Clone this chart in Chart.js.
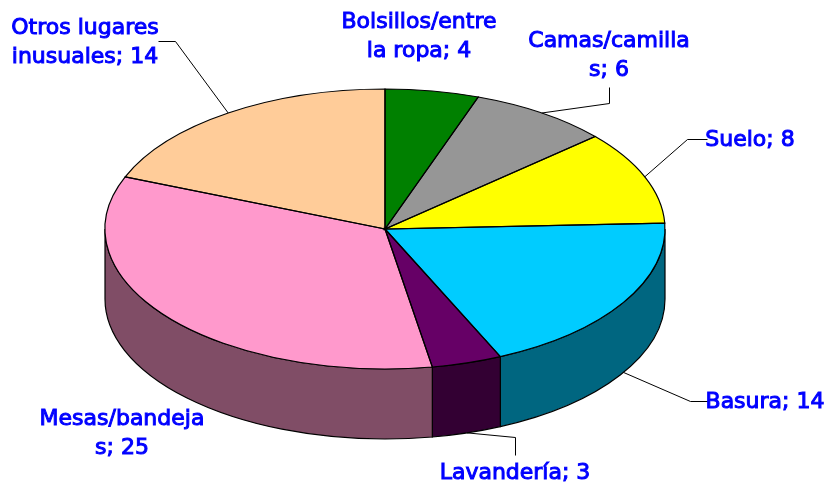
<!DOCTYPE html>
<html>
<head>
<meta charset="utf-8">
<script src="https://cdn.jsdelivr.net/npm/chart.js@4/dist/chart.umd.min.js"></script>
<style>
html, body { margin: 0; padding: 0; background: #fff; }
#wrap { width: 824px; height: 486px; }
</style>
</head>
<body>
<div id="wrap"><canvas id="chartPie" width="824" height="486"></canvas></div>
<script>
"use strict";

var categories = ["Bolsillos/entre la ropa", "Camas/camillas", "Suelo", "Basura",
                  "Lavandería", "Mesas/bandejas", "Otros lugares inusuales"];
var values = [4, 6, 8, 14, 3, 25, 14];
var topColors = ["#008000", "#969696", "#ffff00", "#00ccff", "#660066", "#ff99cc", "#ffcc99"];
var sideColors = ["#004000", "#4b4b4b", "#808000", "#006680", "#330033", "#804d66", "#806633"];

// 3d look: where the tilted top face goes, and how thick the pie is
var cx = 385, cy = 229, rx = 280, ry = 140, depth = 70;

// label placement (text centre, line break index, leader elbow and end)
var labelLayout = [
  {x: 419, y: 22, br: 15},
  {x: 609, y: 41, br: 13, elbow: [609, 103], end: [609, 87]},
  {x: 750, y: 140, elbow: [687, 139], end: [707, 139]},
  {x: 765, y: 402, elbow: [690, 401], end: [709, 401]},
  {x: 515, y: 473, elbow: [515, 437], end: [515, 455]},
  {x: 122, y: 419, br: 13},
  {x: 85, y: 28, br: 13, elbow: [175, 41], end: [158, 41]}
];

function ellipsePoint(angle, down) {
  return [cx + rx * Math.cos(angle), cy + ry * Math.sin(angle) + (down || 0)];
}

var pie3d = {
  id: "pie3d",
  beforeDatasetsDraw: function(chart) {
    var ctx = chart.ctx;
    var arcs = chart.getDatasetMeta(0).data;

    // side walls, only the front half can be seen
    ctx.save();
    ctx.lineWidth = 1.2;
    ctx.strokeStyle = "#000";
    arcs.forEach(function(arc, i) {
      var a = Math.max(arc.startAngle, 0);
      var b = Math.min(arc.endAngle, Math.PI);
      if (a >= b) return;
      var p = ellipsePoint(a);
      var q = ellipsePoint(b, depth);
      ctx.beginPath();
      ctx.moveTo(p[0], p[1]);
      ctx.ellipse(cx, cy, rx, ry, 0, a, b);
      ctx.lineTo(q[0], q[1]);
      ctx.ellipse(cx, cy + depth, rx, ry, 0, b, a, true);
      ctx.closePath();
      ctx.fillStyle = sideColors[i];
      ctx.fill();
      ctx.stroke();
    });
    ctx.restore();

    // squash the round pie into the tilted top face
    var el = arcs[0];
    var r = el.outerRadius;
    ctx.save();
    ctx.translate(cx, cy);
    ctx.scale(rx / r, ry / r);
    ctx.translate(-el.x, -el.y);
  },
  afterDatasetsDraw: function(chart) {
    var ctx = chart.ctx;
    ctx.restore();
    var arcs = chart.getDatasetMeta(0).data;
    ctx.save();
    ctx.lineWidth = 1.2;
    ctx.strokeStyle = "#000";
    arcs.forEach(function(arc) {
      var p = ellipsePoint(arc.startAngle);
      ctx.beginPath();
      ctx.moveTo(cx, cy);
      ctx.lineTo(p[0], p[1]);
      ctx.ellipse(cx, cy, rx, ry, 0, arc.startAngle, arc.endAngle);
      ctx.closePath();
      ctx.stroke();
    });
    ctx.restore();
  },
  afterDraw: function(chart) {
    var ctx = chart.ctx;
    var arcs = chart.getDatasetMeta(0).data;
    ctx.save();
    // leader lines
    ctx.strokeStyle = "#000";
    ctx.lineWidth = 1;
    arcs.forEach(function(arc, i) {
      var lay = labelLayout[i];
      if (!lay.elbow) return;
      var mid = (arc.startAngle + arc.endAngle) / 2;
      var p = ellipsePoint(mid, Math.sin(mid) > 0 ? depth : 0);
      ctx.beginPath();
      ctx.moveTo(p[0], p[1]);
      ctx.lineTo(lay.elbow[0] + 0.5, lay.elbow[1] + 0.5);
      ctx.lineTo(lay.end[0] + 0.5, lay.end[1] + 0.5);
      ctx.stroke();
    });
    // labels
    ctx.font = "22px 'DejaVu Sans'";
    ctx.textAlign = "center";
    ctx.textBaseline = "middle";
    ctx.fillStyle = "#0000ff";
    ctx.strokeStyle = "#0000ff";
    ctx.lineWidth = 1;
    categories.forEach(function(name, i) {
      var lay = labelLayout[i];
      var text = name + "; " + values[i];
      var lines = lay.br ? [text.slice(0, lay.br).trim(), text.slice(lay.br).trim()] : [text];
      lines.forEach(function(line, k) {
        ctx.fillText(line, lay.x, lay.y + k * 29);
        ctx.strokeText(line, lay.x, lay.y + k * 29);
      });
    });
    ctx.restore();
  }
};

var chartPie = new Chart("chartPie", {
  type: "pie",
  data: {
    labels: categories,
    datasets: [
      {
        data: values,
        backgroundColor: topColors,
        borderWidth: 0,
        clip: false
      }
    ]
  },
  options: {
    responsive: false,
    animation: false,
    events: [],
    plugins: {
      legend: { display: false },
      tooltip: { enabled: false }
    }
  },
  plugins: [pie3d]
});
</script>
</body>
</html>
